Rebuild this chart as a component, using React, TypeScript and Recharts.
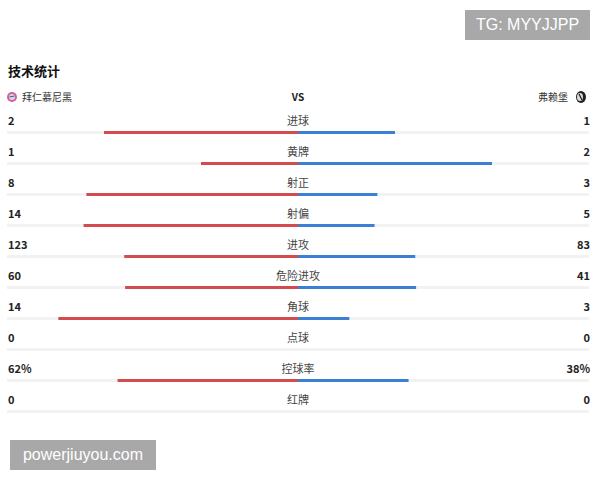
import React from 'react';
import { BarChart, Bar, XAxis, YAxis } from 'recharts';

const categories = ['进球', '黄牌', '射正', '射偏', '进攻', '危险进攻', '角球', '点球', '控球率', '红牌'];
const homeValues = [2, 1, 8, 14, 123, 60, 14, 0, 62, 0];
const awayValues = [1, 2, 3, 5, 83, 41, 3, 0, 38, 0];
const units = ['', '', '', '', '', '', '', '', '%', ''];

const homeTeam = '拜仁慕尼黑';
const awayTeam = '弗赖堡';

const RED = '#d24c4f';
const BLUE = '#3b80d4';
const CJK = '"Noto Sans CJK SC", "Noto Sans", sans-serif';

const W = 600;
const H = 480;
const M = { top: 117, right: 11, bottom: 53, left: 7 };
const PLOT_W = W - M.left - M.right;

// share of each side, home drawn to the left (negative)
const data = categories.map((name, i) => {
  const total = homeValues[i] + awayValues[i];
  return {
    name,
    home: total ? -homeValues[i] / total : 0,
    away: total ? awayValues[i] / total : 0,
  };
});

// labels + grey track for each row, drawn under the bars
const RowTick = (props: any) => {
  const { y, index } = props;
  const ty = y - 11;
  const cx = M.left + PLOT_W / 2;
  return (
    <g fontFamily={CJK} fontSize={11}>
      <rect x={M.left} y={y - 1.5} width={PLOT_W} height={3} fill="#f2f2f2" />
      <text x={8} y={ty} dy="0.36em" fill="#222" fontWeight={600}>
        {homeValues[index] + units[index]}
      </text>
      <text x={cx} y={ty} dy="0.36em" fill="#444" textAnchor="middle">
        {categories[index]}
      </text>
      <text x={590} y={ty} dy="0.36em" fill="#222" fontWeight={600} textAnchor="end">
        {awayValues[index] + units[index]}
      </text>
    </g>
  );
};

const boxStyle: React.CSSProperties = {
  position: 'absolute',
  background: '#a8a8a8',
  color: '#fff',
  fontFamily: '"Liberation Sans", Arial, sans-serif',
  fontSize: 16,
  display: 'flex',
  alignItems: 'center',
  justifyContent: 'center',
};

const layer: React.CSSProperties = { position: 'absolute', left: 0, top: 0 };

export default function App() {
  return (
    <div style={{ position: 'absolute', left: 0, top: 0, width: W, height: H, background: '#fff', overflow: 'hidden' }}>
      <div style={layer}>
        <BarChart width={W} height={H} data={data} layout="vertical" margin={{ ...M, left: M.left - 1 }}>
          <XAxis type="number" domain={[-1, 1]} hide />
          <YAxis
            type="category"
            dataKey="name"
            width={1}
            axisLine={false}
            tickLine={false}
            tick={(p: any) => <RowTick {...p} />}
            interval={0}
          />
        </BarChart>
      </div>

      <div style={layer}>
        <BarChart
          width={W}
          height={H}
          data={data}
          layout="vertical"
          stackOffset="sign"
          margin={M}
          barSize={3}
        >
          <XAxis type="number" domain={[-1, 1]} hide />
          <YAxis type="category" dataKey="name" hide />
          <Bar dataKey="home" stackId="s" fill={RED} isAnimationActive={false} />
          <Bar dataKey="away" stackId="s" fill={BLUE} isAnimationActive={false} />
        </BarChart>
      </div>

      <div style={{ ...boxStyle, left: 465, top: 10, width: 125, height: 30 }}>TG: MYYJJPP</div>
      <div style={{ ...boxStyle, left: 10, top: 440, width: 146, height: 30 }}>powerjiuyou.com</div>

      <div style={{ position: 'absolute', left: 8, top: 61, fontFamily: CJK, fontSize: 13, fontWeight: 700, color: '#111' }}>
        技术统计
      </div>

      <div style={{ position: 'absolute', left: 7, top: 89, display: 'flex', alignItems: 'center', fontFamily: CJK, fontSize: 10, color: '#333' }}>
        <svg width={10} height={10} style={{ marginRight: 5 }}>
          <circle cx={5} cy={5} r={5} fill="#d8608a" />
          <circle cx={5} cy={5} r={3} fill="#cfd9ee" />
          <path d="M2.5 5 L7.5 4" stroke="#3559a8" strokeWidth={1} />
        </svg>
        {homeTeam}
      </div>

      <div style={{ position: 'absolute', left: 288, top: 89, width: 20, textAlign: 'center', fontFamily: CJK, fontSize: 10, fontWeight: 700, color: '#222' }}>
        VS
      </div>

      <div style={{ position: 'absolute', right: 14, top: 89, display: 'flex', alignItems: 'center', fontFamily: CJK, fontSize: 10, color: '#333' }}>
        {awayTeam}
        <svg width={10} height={12} style={{ marginLeft: 8 }}>
          <ellipse cx={5} cy={6} rx={5} ry={6} fill="#222" />
          <ellipse cx={4} cy={6} rx={3} ry={4} fill="#ddd" />
          <path d="M3 3 L6 9" stroke="#222" strokeWidth={1.2} />
        </svg>
      </div>
    </div>
  );
}
